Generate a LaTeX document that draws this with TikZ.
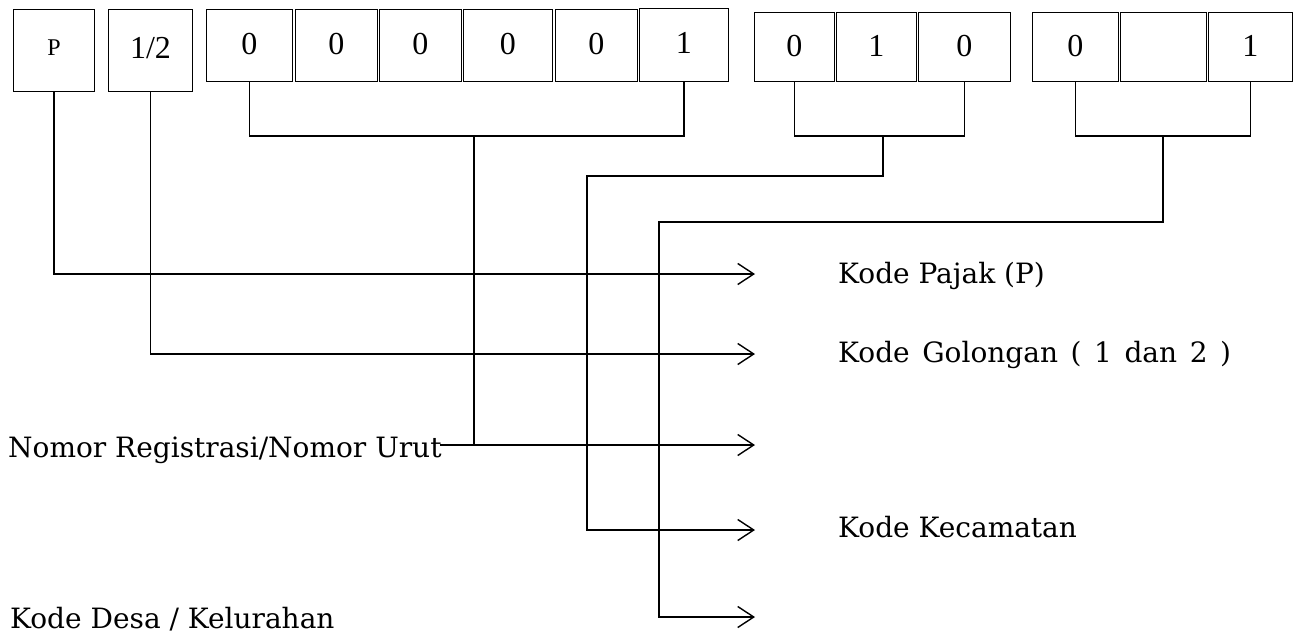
\documentclass[tikz,border=0pt]{standalone}
\usepackage{fontspec}
\setmainfont{Liberation Serif}
\newfontfamily\lblfont{DejaVu Serif}
\usetikzlibrary{arrows.meta}
\begin{document}
\begin{tikzpicture}[x=1pt,y=-1pt,
  box/.style={draw, line width=0.9pt, inner sep=0pt, anchor=north west, font=\fontsize{32}{34}\selectfont},
  lbl/.style={inner sep=0pt, anchor=base west, font=\lblfont\fontsize{28}{30}\selectfont},
  conn/.style={line width=1.4pt},
  arr/.style={conn, -{Straight Barb[length=16pt,width=21pt]}}]
\useasboundingbox (0,0) rectangle (1293,635);
% boxes
\node[box, minimum width=81pt, minimum height=82pt, font=\fontsize{24}{26}\selectfont] (bP) at (13,9) {\raisebox{6pt}{P}};
\node[box, minimum width=84pt, minimum height=82pt] (bH) at (108,9) {\raisebox{6pt}{1/2}};
\node[box, minimum width=86pt, minimum height=72pt] (b3) at (206,9) {\raisebox{3pt}{0}};
\node[box, minimum width=82pt, minimum height=72pt] (b4) at (295,9) {\raisebox{3pt}{0}};
\node[box, minimum width=82pt, minimum height=72pt] (b5) at (379,9) {\raisebox{3pt}{0}};
\node[box, minimum width=89pt, minimum height=72pt] (b6) at (463,9) {\raisebox{3pt}{0}};
\node[box, minimum width=82pt, minimum height=72pt] (b7) at (555,9) {\raisebox{3pt}{0}};
\node[box, minimum width=89pt, minimum height=73pt] (b8) at (639,8) {\raisebox{5pt}{1}};
\node[box, minimum width=80pt, minimum height=69pt] (b9) at (754,12) {\raisebox{2pt}{0}};
\node[box, minimum width=80pt, minimum height=69pt] (b10) at (836,12) {\raisebox{2pt}{1}};
\node[box, minimum width=92pt, minimum height=69pt] (b11) at (918,12) {\raisebox{2pt}{0}};
\node[box, minimum width=86pt, minimum height=69pt] (b12) at (1032,12) {\raisebox{2pt}{0}};
\node[box, minimum width=86pt, minimum height=69pt] (b13) at (1120,12) {};
\node[box, minimum width=84pt, minimum height=69pt] (b14) at (1208,12) {\raisebox{2pt}{1}};
% labels
\node[lbl] (lP) at (838,283) {Kode Pajak (P)};
\node[lbl] (lG) at (838,362) {\spaceskip=0.45em Kode Golongan ( 1 dan 2 )};
\node[lbl] (lN) at (8,457) {Nomor Registrasi/Nomor Urut};
\node[lbl] (lK) at (838,537) {Kode Kecamatan};
\node[lbl] (lD) at (10,628) {Kode Desa / Kelurahan};
% arrow ends and junctions
\coordinate (tP) at (755,274);
\coordinate (tG) at (755,354);
\coordinate (tN) at (755,445);
\coordinate (tK) at (755,530);
\coordinate (tD) at (755,617);
\coordinate (j1) at (474,136);
\coordinate (j2) at (883,136);
\coordinate (j3) at (1163,136);
\coordinate (c2) at (587,176);
\coordinate (c3) at (659,222);
% connectors
\draw[arr] (bP.south) |- (tP);
\draw[arr] (bH.south) |- (tG);
\draw[conn] (b3.south) |- (j1) -| (b8.south);
\draw[conn] (j1) -- (j1 |- tN);
\draw[arr] ([xshift=-2pt]lN.east |- tN) -- (tN);
\draw[conn] (b9.south) |- (j2) -| (b11.south);
\draw[arr] (j2) |- (c2) |- (tK);
\draw[conn] (b12.south) |- (j3) -| (b14.south);
\draw[arr] (j3) |- (c3) |- (tD);
\end{tikzpicture}
\end{document}
